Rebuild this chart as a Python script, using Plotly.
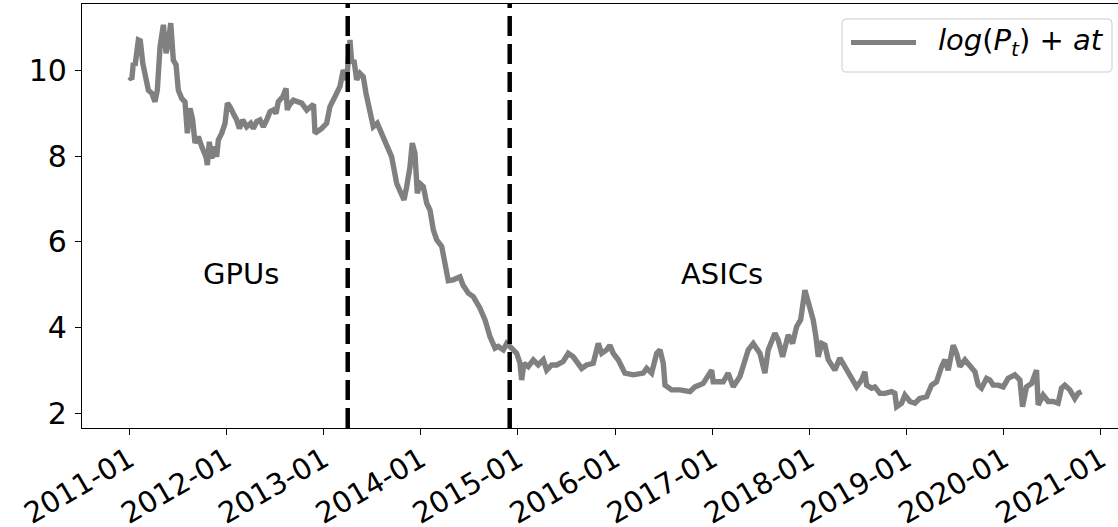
import pandas as pd
import plotly.graph_objects as go

# Time axis: years elapsed since 2011-01-01
t_years = [
    0.000, 0.025, 0.041, 0.059, 0.093, 0.113, 0.138, 0.162, 0.196, 0.231,
    0.264, 0.288, 0.316, 0.350, 0.378, 0.401, 0.426, 0.453, 0.481, 0.504,
    0.539, 0.573, 0.597, 0.625, 0.652, 0.676, 0.710, 0.745, 0.789, 0.803,
    0.823, 0.848, 0.872, 0.899, 0.916, 0.951, 0.985, 1.009, 1.036, 1.070,
    1.105, 1.132, 1.167, 1.208, 1.249, 1.276, 1.311, 1.345, 1.379, 1.414,
    1.448, 1.482, 1.510, 1.533, 1.579, 1.613, 1.626, 1.637, 1.688, 1.774,
    1.826, 1.877, 1.896, 1.911, 1.980, 2.031, 2.065, 2.117, 2.168, 2.202,
    2.237, 2.271, 2.289, 2.312, 2.340, 2.374, 2.408, 2.436, 2.470, 2.511,
    2.552, 2.598, 2.649, 2.700, 2.752, 2.803, 2.827, 2.855, 2.889, 2.912,
    2.940, 2.964, 2.992, 3.026, 3.061, 3.095, 3.129, 3.164, 3.215, 3.249,
    3.283, 3.334, 3.403, 3.434, 3.489, 3.540, 3.609, 3.661, 3.712, 3.764,
    3.797, 3.849, 3.884, 3.935, 3.987, 4.021, 4.038, 4.062, 4.106, 4.158,
    4.209, 4.261, 4.296, 4.347, 4.399, 4.466, 4.518, 4.569, 4.621, 4.656,
    4.707, 4.775, 4.827, 4.862, 4.913, 4.947, 4.981, 5.032, 5.101, 5.187,
    5.290, 5.325, 5.376, 5.428, 5.462, 5.496, 5.514, 5.582, 5.668, 5.771,
    5.822, 5.907, 5.994, 6.010, 6.113, 6.164, 6.216, 6.285, 6.370, 6.422,
    6.491, 6.542, 6.576, 6.645, 6.679, 6.724, 6.782, 6.827, 6.868, 6.910,
    6.954, 6.978, 7.005, 7.039, 7.067, 7.091, 7.126, 7.160, 7.194, 7.228,
    7.262, 7.314, 7.365, 7.417, 7.486, 7.537, 7.571, 7.589, 7.640, 7.674,
    7.726, 7.777, 7.846, 7.880, 7.898, 7.949, 7.983, 8.035, 8.086, 8.136,
    8.206, 8.257, 8.309, 8.360, 8.395, 8.429, 8.480, 8.515, 8.549, 8.601,
    8.652, 8.704, 8.738, 8.772, 8.824, 8.858, 8.892, 8.943, 8.995, 9.046,
    9.115, 9.167, 9.194, 9.235, 9.287, 9.338, 9.355, 9.406, 9.458, 9.509,
    9.560, 9.595, 9.629, 9.681, 9.732, 9.766, 9.801,
]

# log(P_t) + a t
values = [
    9.84, 9.78, 10.16, 10.10, 10.70, 10.68, 10.16, 9.84, 9.53, 9.46,
    9.26, 9.53, 10.54, 11.05, 10.39, 10.62, 11.09, 10.23, 10.12, 9.53,
    9.34, 9.26, 8.53, 9.11, 8.84, 8.30, 8.45, 8.22, 7.98, 7.79,
    8.33, 7.94, 8.22, 7.98, 8.37, 8.53, 8.76, 9.23, 9.15, 8.99,
    8.84, 8.64, 8.84, 8.68, 8.76, 8.64, 8.80, 8.84, 8.68, 8.84,
    9.03, 9.07, 8.99, 9.26, 9.38, 9.57, 9.07, 9.15, 9.30, 9.23,
    9.07, 9.19, 9.20, 8.53, 8.64, 8.76, 9.15, 9.38, 9.62, 10.00,
    9.77, 10.70, 10.16, 10.23, 9.77, 9.92, 9.84, 9.46, 9.15, 8.68,
    8.76, 8.53, 8.30, 7.98, 7.36, 7.05, 6.98, 7.29, 7.75, 8.30,
    8.06, 7.13, 7.36, 7.29, 6.90, 6.74, 6.28, 6.05, 5.90, 5.50,
    5.10, 5.12, 5.19, 5.00, 4.81, 4.73, 4.46, 4.19, 3.80, 3.53,
    3.57, 3.49, 3.64, 3.53, 3.41, 3.18, 2.79, 3.18, 3.10, 3.26,
    3.14, 3.26, 3.02, 3.14, 3.14, 3.22, 3.41, 3.33, 3.14, 3.06,
    3.14, 3.18, 3.64, 3.41, 3.49, 3.60, 3.41, 3.26, 2.95, 2.91,
    2.95, 3.06, 2.95, 3.41, 3.49, 3.18, 2.67, 2.56, 2.56, 2.52,
    2.63, 2.71, 3.02, 2.75, 2.75, 2.95, 2.63, 2.87, 3.49, 3.64,
    3.41, 2.95, 3.49, 3.88, 3.72, 3.33, 3.84, 3.64, 4.03, 4.19,
    4.88, 4.69, 4.50, 4.19, 3.80, 3.33, 3.64, 3.60, 3.26, 3.14,
    3.02, 3.30, 3.10, 2.87, 2.63, 2.79, 2.98, 2.67, 2.60, 2.63,
    2.48, 2.48, 2.52, 2.48, 2.17, 2.25, 2.44, 2.29, 2.25, 2.36,
    2.40, 2.67, 2.75, 3.10, 3.26, 3.02, 3.60, 3.41, 3.10, 3.26,
    3.14, 2.98, 2.67, 2.60, 2.83, 2.79, 2.67, 2.67, 2.63, 2.83,
    2.91, 2.79, 2.17, 2.63, 2.71, 3.02, 2.21, 2.44, 2.29, 2.29,
    2.25, 2.60, 2.67, 2.56, 2.36, 2.48, 2.52,
]

# Hardware era boundaries and labels
era_breaks = ["2013-04-01", "2014-12-01"]
era_labels = ["GPUs", "ASICs"]
era_label_x = ["2012-02-24", "2017-02-06"]
era_label_y = [5.26, 5.26]

series_name = "<i>log</i>(<i>P<sub>t</sub></i>) + <i>at</i>"

dates = pd.Timestamp("2011-01-01") + pd.to_timedelta(pd.Series(t_years) * 365.25, unit="D")

W, H = 1118, 527
ML, MR, MT, MB = 82, 0, 4, 99
FONT = "DejaVu Sans"
GREY = "#808080"


def px_x(px):
    return (px - ML) / (W - ML - MR)


def px_y(py):
    return (H - MB - py) / (H - MT - MB)


fig = go.Figure()
fig.add_trace(go.Scatter(
    x=dates, y=values, mode="lines",
    line=dict(color=GREY, width=5.4),
    name=series_name, showlegend=False,
))

# dashed era separators
for d in era_breaks:
    fig.add_shape(type="line", xref="x", yref="paper", x0=d, x1=d, y0=0, y1=1,
                  line=dict(color="black", width=4.5, dash="20px,8px"))

for lbl, xx, yy in zip(era_labels, era_label_x, era_label_y):
    fig.add_annotation(x=xx, y=yy, xref="x", yref="y", text=lbl, showarrow=False,
                       xanchor="center", yanchor="middle",
                       font=dict(family=FONT, size=29, color="black"))

# legend box with rounded corners
x0, x1, y0, y1, r = 842, 1112, 19, 72, 4
pts = [
    ("M", x0 + r, y0), ("L", x1 - r, y0), ("Q", x1, y0, x1, y0 + r),
    ("L", x1, y1 - r), ("Q", x1, y1, x1 - r, y1), ("L", x0 + r, y1),
    ("Q", x0, y1, x0, y1 - r), ("L", x0, y0 + r), ("Q", x0, y0, x0 + r, y0),
]
path = ""
for p in pts:
    cmd, coords = p[0], p[1:]
    xy = []
    for i in range(0, len(coords), 2):
        xy.append(f"{px_x(coords[i]):.5f},{px_y(coords[i + 1]):.5f}")
    path += cmd + " ".join(xy) + " "
path += "Z"
fig.add_shape(type="path", xref="paper", yref="paper", path=path,
              fillcolor="rgba(255,255,255,0.8)", line=dict(color="#cccccc", width=1))
fig.add_shape(type="line", xref="paper", yref="paper",
              x0=px_x(851), x1=px_x(916), y0=px_y(42.5), y1=px_y(42.5),
              line=dict(color=GREY, width=5))
fig.add_annotation(xref="paper", yref="paper", x=px_x(936), y=px_y(42),
                   text=series_name, showarrow=False, xanchor="left", yanchor="middle",
                   font=dict(family=FONT, size=29, color="black"))

fig.update_layout(
    width=W, height=H,
    margin=dict(l=ML, r=MR, t=MT, b=MB, pad=0),
    paper_bgcolor="white", plot_bgcolor="white",
    font=dict(family=FONT, color="black"),
    showlegend=False,
)
fig.update_xaxes(
    range=["2010-07-07", "2021-03-06"],
    dtick="M12", tick0="2011-01-01", tickformat="%Y-%m",
    tickangle=-30, tickfont=dict(size=29, family=FONT, color="black"),
    ticklabelstandoff=-4, ticklabelshift=0,
    ticks="outside", ticklen=6, tickwidth=1.3, tickcolor="black",
    showline=True, linecolor="black", linewidth=1.3, mirror=True,
    showgrid=False, zeroline=False, automargin=False,
)
fig.update_yaxes(
    range=[1.674, 11.535],
    tickvals=[2, 4, 6, 8, 10],
    tickfont=dict(size=30, family=FONT, color="black"),
    ticklabelstandoff=2,
    ticks="outside", ticklen=6, tickwidth=1.3, tickcolor="black",
    showline=True, linecolor="black", linewidth=1.3, mirror=False,
    showgrid=False, zeroline=False, automargin=False,
)

fig.write_html("out.html")
